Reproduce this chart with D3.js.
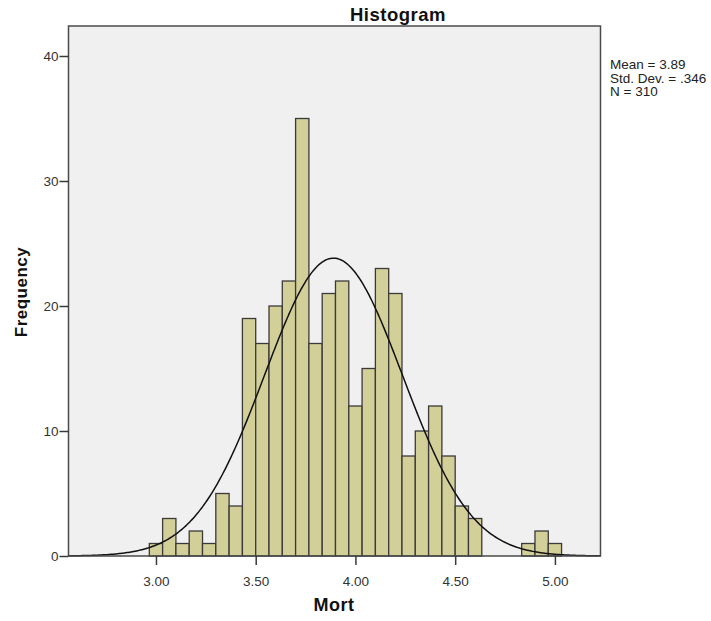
<!DOCTYPE html>
<html>
<head>
<meta charset="utf-8">
<script src="https://cdn.jsdelivr.net/npm/d3@7"></script>
<style>
  body { margin: 0; background: #fff; }
  svg text { font-family: Arial, "Liberation Sans", sans-serif; }
</style>
</head>
<body>
<svg id="chart" width="711" height="621"></svg>
<script>
// bins are 1/15 wide, anchored so that 3.50 and 4.50 fall on edges
var binWidth = 1 / 15;
var firstEdge = 3.5 - 8 * binWidth;
var binCounts = [1, 3, 1, 2, 1, 5, 4, 19,
  17, 20, 22, 35, 17, 21, 22, 12, 15, 23, 21, 8, 10, 12, 8, 4, 3,
  0, 0, 0, 1, 2, 1];
var xTicks = [3.0, 3.5, 4.0, 4.5, 5.0];
var yTicks = [0, 10, 20, 30, 40];
var statLines = ["Mean = 3.89", "Std. Dev. = .346", "N = 310"];
var mean = 3.89, sd = 0.346, n = 310;

var bins = binCounts.map(function(c, i) {
  return { x0: firstEdge + i * binWidth, x1: firstEdge + (i + 1) * binWidth, count: c };
}).filter(function(d) { return d.count > 0; });

const svg = d3.select("#chart");
const plot = { left: 68.5, top: 26, right: 600.5, bottom: 556 };

var x = d3.scaleLinear().domain([2.5615, 5.2285]).range([plot.left, plot.right]);
var y = d3.scaleLinear().domain([0, 42.4]).range([plot.bottom, plot.top]);

// plot background
svg.append("rect")
  .attr("x", plot.left).attr("y", plot.top)
  .attr("width", plot.right - plot.left).attr("height", plot.bottom - plot.top)
  .attr("fill", "#f0f0f0");

// bars
svg.append("g").selectAll("rect")
  .data(bins)
  .join("rect")
  .attr("x", d => x(d.x0))
  .attr("y", d => y(d.count))
  .attr("width", d => x(d.x1) - x(d.x0))
  .attr("height", d => y(0) - y(d.count))
  .attr("fill", "#d3cf98")
  .attr("stroke", "#3a3a3a")
  .attr("stroke-width", 1.3);

// normal curve scaled to counts
var curvePts = d3.range(0, 401).map(function(i) {
  var v = x.domain()[0] + (x.domain()[1] - x.domain()[0]) * i / 400;
  var dens = Math.exp(-0.5 * Math.pow((v - mean) / sd, 2)) / (sd * Math.sqrt(2 * Math.PI));
  return [v, dens * n * binWidth];
});
svg.append("path")
  .datum(curvePts)
  .attr("fill", "none")
  .attr("stroke", "#111")
  .attr("stroke-width", 1.5)
  .attr("d", d3.line().x(d => x(d[0])).y(d => y(d[1])));

// frame
svg.append("rect")
  .attr("x", plot.left).attr("y", plot.top)
  .attr("width", plot.right - plot.left).attr("height", plot.bottom - plot.top)
  .attr("fill", "none")
  .attr("stroke", "#4a4a4a")
  .attr("stroke-width", 1.5);

// axes
var xAxis = svg.append("g")
  .attr("transform", `translate(0,${plot.bottom})`)
  .call(d3.axisBottom(x).tickValues(xTicks).tickFormat(d3.format(".2f")).tickSize(9).tickSizeOuter(0));
var yAxis = svg.append("g")
  .attr("transform", `translate(${plot.left},0)`)
  .call(d3.axisLeft(y).tickValues(yTicks).tickSize(9).tickSizeOuter(0));

[xAxis, yAxis].forEach(function(ax) {
  ax.select(".domain").remove();
  ax.selectAll(".tick line").attr("stroke", "#3a3a3a").attr("stroke-width", 1.5);
  ax.selectAll(".tick text").attr("fill", "#333").style("font-size", "13.5px");
});
xAxis.selectAll(".tick text").attr("dy", "1.3em");
yAxis.selectAll(".tick text").attr("x", -10);

// titles
svg.append("text")
  .attr("x", 398).attr("y", 21)
  .attr("text-anchor", "middle")
  .style("font-size", "18.5px").style("font-weight", "bold")
  .style("letter-spacing", "0.5px")
  .attr("fill", "#111")
  .text("Histogram");

svg.append("text")
  .attr("x", 334).attr("y", 611)
  .attr("text-anchor", "middle")
  .style("font-size", "18px").style("font-weight", "bold")
  .style("letter-spacing", "0.5px")
  .attr("fill", "#111")
  .text("Mort");

svg.append("text")
  .attr("transform", "translate(27,292) rotate(-90)")
  .attr("text-anchor", "middle")
  .style("font-size", "17px").style("font-weight", "bold")
  .style("letter-spacing", "0.5px")
  .attr("fill", "#111")
  .text("Frequency");

// stats box
svg.append("g").selectAll("text")
  .data(statLines)
  .join("text")
  .attr("x", 610)
  .attr("y", (d, i) => 69 + i * 13.5)
  .style("font-size", "13.5px")
  .attr("fill", "#222")
  .text(d => d);
</script>
</body>
</html>
